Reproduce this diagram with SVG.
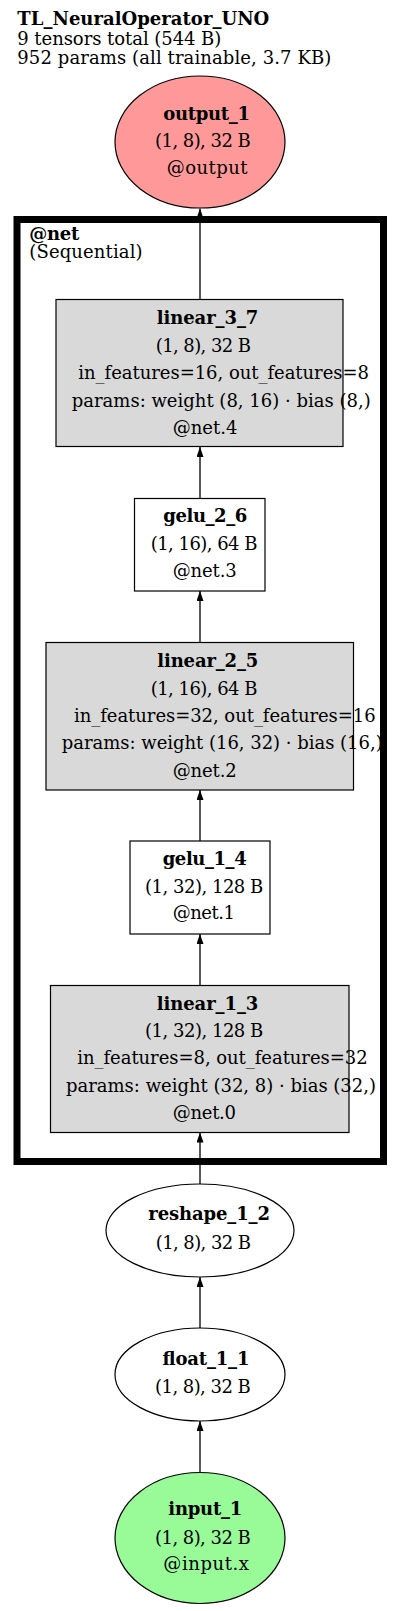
<svg xmlns="http://www.w3.org/2000/svg" width="400" height="1611" viewBox="0 0 400 1611">
<style>
text{font-family:"DejaVu Serif","Liberation Serif",serif;font-size:18px;fill:#000}
.b{font-weight:bold}
.nf{stroke:none}
.ns{fill:none;stroke:#000;stroke-width:1.2}
.edge{stroke:#222;stroke-width:1.5;fill:none}
</style>
<defs>
<marker id="ah" viewBox="0 0 10 7" refX="10" refY="3.5" markerWidth="10" markerHeight="7" markerUnits="userSpaceOnUse" orient="auto">
<path d="M0,0 L10,3.5 L0,7 Z" fill="#000"/>
</marker>
</defs>
<rect width="400" height="1611" fill="#fff"/>
<g id="title">
<text x="17.3" y="25" class="b" textLength="252">TL_NeuralOperator_UNO</text>
<text x="17.3" y="45" textLength="204">9 tensors total (544 B)</text>
<text x="17.3" y="64" textLength="314">952 params (all trainable, 3.7 KB)</text>
</g>
<g id="connectors">
<line class="edge" x1="200" y1="1473" x2="200" y2="1421" marker-end="url(#ah)"/>
<line class="edge" x1="200" y1="1328" x2="200" y2="1277" marker-end="url(#ah)"/>
<line class="edge" x1="200" y1="1184" x2="200" y2="1132.5" marker-end="url(#ah)"/>
<line class="edge" x1="200" y1="985.5" x2="200" y2="934" marker-end="url(#ah)"/>
<line class="edge" x1="200" y1="841" x2="200" y2="790" marker-end="url(#ah)"/>
<line class="edge" x1="200" y1="642.5" x2="200" y2="591" marker-end="url(#ah)"/>
<line class="edge" x1="200" y1="498.5" x2="200" y2="447" marker-end="url(#ah)"/>
<line class="edge" x1="200" y1="299.5" x2="200" y2="208.5" marker-end="url(#ah)"/>
</g>
<g id="output_1">
<ellipse cx="200" cy="142" rx="85" ry="66" fill="#ff9999" stroke="#000" stroke-width="1.2"/>
<text x="163.3" y="120" class="b" textLength="86.7">output_1</text>
<text x="155" y="147" textLength="95.7">(1, 8), 32 B</text>
<text x="166.7" y="174" textLength="80.7">@output</text>
</g>
<g id="linear_3_7">
<rect class="nf" x="56" y="299.5" width="287" height="147" fill="#d9d9d9"/>
<text x="156.7" y="323.5" class="b" textLength="101.7">linear_3_7</text>
<text x="155.7" y="351.5" textLength="95.3">(1, 8), 32 B</text>
<text x="78.3" y="379" textLength="290.7">in_features=16, out_features=8</text>
<text x="71.7" y="406.5" textLength="299">params: weight (8, 16) · bias (8,)</text>
<text x="172.7" y="434" textLength="64.7">@net.4</text>
<rect class="ns" x="56" y="299.5" width="287" height="147"/>
</g>
<g id="gelu_2_6">
<rect class="nf" x="134.5" y="498.5" width="130.5" height="92.5" fill="#fff"/>
<text x="163.3" y="521.5" class="b" textLength="84">gelu_2_6</text>
<text x="150.7" y="550" textLength="106.7">(1, 16), 64 B</text>
<text x="172.7" y="576.5" textLength="64">@net.3</text>
<rect class="ns" x="134.5" y="498.5" width="130.5" height="92.5"/>
</g>
<g id="linear_2_5">
<rect class="nf" x="46" y="642.5" width="307.5" height="147.5" fill="#d9d9d9"/>
<text x="157.3" y="666.5" class="b" textLength="101">linear_2_5</text>
<text x="150.7" y="695" textLength="106.7">(1, 16), 64 B</text>
<text x="74" y="721.5" textLength="301.7">in_features=32, out_features=16</text>
<text x="61.7" y="749" textLength="321">params: weight (16, 32) · bias (16,)</text>
<text x="172.7" y="776.5" textLength="64">@net.2</text>
<rect class="ns" x="46" y="642.5" width="307.5" height="147.5"/>
</g>
<g id="gelu_1_4">
<rect class="nf" x="130" y="841" width="140" height="93" fill="#fff"/>
<text x="162.7" y="865" class="b" textLength="84">gelu_1_4</text>
<text x="145" y="892.5" textLength="118.3">(1, 32), 128 B</text>
<text x="172.7" y="919" textLength="62.3">@net.1</text>
<rect class="ns" x="130" y="841" width="140" height="93"/>
</g>
<g id="linear_1_3">
<rect class="nf" x="50.5" y="985.5" width="298.5" height="147" fill="#d9d9d9"/>
<text x="156.7" y="1009.5" class="b" textLength="101.7">linear_1_3</text>
<text x="145" y="1036.5" textLength="118.3">(1, 32), 128 B</text>
<text x="77.3" y="1063.5" textLength="290.3">in_features=8, out_features=32</text>
<text x="66" y="1091.5" textLength="310">params: weight (32, 8) · bias (32,)</text>
<text x="172.7" y="1119" textLength="63.3">@net.0</text>
<rect class="ns" x="50.5" y="985.5" width="298.5" height="147"/>
</g>
<g id="net">
<rect x="17" y="219.5" width="366.5" height="942" fill="none" stroke="#000" stroke-width="7"/>
<text x="29.3" y="240" class="b" textLength="50">@net</text>
<text x="29.3" y="258" textLength="113.3">(Sequential)</text>
</g>
<g id="reshape_1_2">
<ellipse cx="200" cy="1230.5" rx="94" ry="46.5" fill="#fff" stroke="#000" stroke-width="1.2"/>
<text x="148.3" y="1220" class="b" textLength="121.7">reshape_1_2</text>
<text x="155.7" y="1248.5" textLength="95.3">(1, 8), 32 B</text>
</g>
<g id="float_1_1">
<ellipse cx="200" cy="1374.5" rx="85" ry="46.5" fill="#fff" stroke="#000" stroke-width="1.2"/>
<text x="162.3" y="1365" class="b" textLength="87">float_1_1</text>
<text x="155" y="1392.5" textLength="95.7">(1, 8), 32 B</text>
</g>
<g id="input_1">
<ellipse cx="200" cy="1538" rx="85" ry="65.5" fill="#98fb98" stroke="#000" stroke-width="1.2"/>
<text x="168.3" y="1515" class="b" textLength="74">input_1</text>
<text x="155" y="1543.5" textLength="95.7">(1, 8), 32 B</text>
<text x="163.3" y="1570" textLength="85.7">@input.x</text>
</g>
</svg>
